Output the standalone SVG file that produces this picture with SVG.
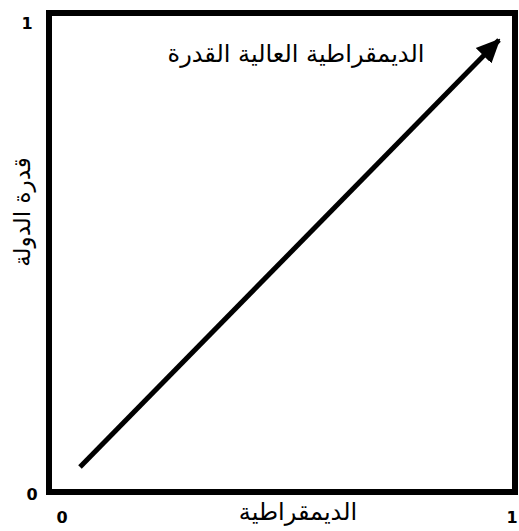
<svg xmlns="http://www.w3.org/2000/svg" width="519" height="531" viewBox="0 0 519 531">
<defs>
<style>
.num{font-family:"DejaVu Sans",sans-serif;font-weight:bold;font-size:16px;fill:#000;text-anchor:middle}
.ar{font-family:"DejaVu Sans","Noto Sans",sans-serif;font-size:24px;fill:#000;text-anchor:middle}
.frame{fill:#fff;stroke:#000;stroke-width:6}
.conn{stroke:#000;stroke-width:5;fill:none}
</style>
<marker id="ah" markerUnits="userSpaceOnUse" markerWidth="24" markerHeight="24" viewBox="0 0 24 24" refX="22" refY="12" orient="auto">
<path d="M0,1 L24,12 L0,23 Z" fill="#000"/>
</marker>
</defs>
<rect width="519" height="531" fill="#fff"/>
<g id="frame"><rect class="frame" x="49" y="13" width="466" height="479"/></g>
<g id="connectors">
<line class="conn" x1="80" y1="467" x2="499" y2="40" marker-end="url(#ah)"/>
</g>
<g id="labels">
<text class="num" x="27" y="29">1</text>
<text class="num" x="32" y="500">0</text>
<text class="num" x="62" y="523">0</text>
<text class="num" x="512" y="523">1</text>
<text class="ar" x="296" y="62" direction="rtl">الديمقراطية العالية القدرة</text>
<text class="ar" x="298" y="520" direction="rtl">الديمقراطية</text>
<text class="ar" style="font-size:23px" transform="translate(30,212) rotate(-90)" x="0" y="0" direction="rtl">قدرة الدولة</text>
</g>
</svg>
